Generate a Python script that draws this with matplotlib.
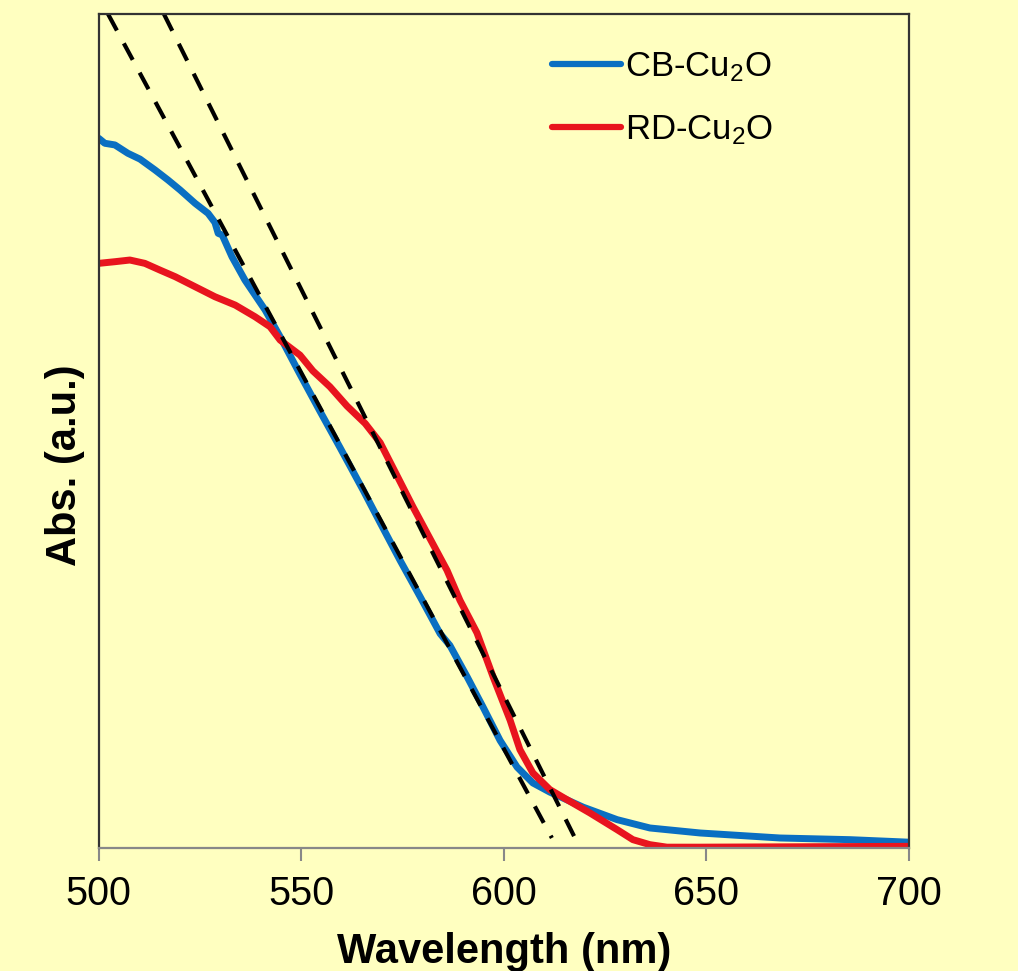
import matplotlib
matplotlib.use("Agg")
import matplotlib.pyplot as plt

plt.rcParams['font.family'] = ['Liberation Sans', 'DejaVu Sans']
plt.rcParams['mathtext.fontset'] = 'custom'
plt.rcParams['mathtext.rm'] = 'Liberation Sans'
plt.rcParams['mathtext.it'] = 'Liberation Sans:italic'
plt.rcParams['mathtext.bf'] = 'Liberation Sans:bold'
plt.rcParams['mathtext.default'] = 'regular'

# ---- data ----
cb_wl = [500.0, 501.5, 504.0, 507.2, 510.2, 513.9, 517.1, 520.1, 523.8, 527.0,
         528.7, 529.5, 530.5, 532.9, 536.1, 538.6, 541.1, 544.8, 549.7, 554.6,
         559.6, 565.3, 569.5, 574.4, 579.4, 584.3, 586.7, 591.0, 594.9, 599.1,
         603.3, 607.2, 611.4, 619.6, 628.0, 636.1, 648.5, 668.2, 685.5, 699.9]
cb_abs = [0.851, 0.845, 0.843, 0.833, 0.826, 0.813, 0.801, 0.789, 0.773, 0.761,
          0.750, 0.737, 0.735, 0.709, 0.681, 0.663, 0.645, 0.613, 0.568, 0.524,
          0.480, 0.429, 0.390, 0.345, 0.301, 0.257, 0.243, 0.205, 0.169, 0.129,
          0.097, 0.078, 0.067, 0.049, 0.034, 0.024, 0.018, 0.012, 0.010, 0.007]

rd_wl = [500.0, 504.0, 507.7, 511.4, 515.1, 518.9, 523.8, 528.7, 533.7, 538.6,
         542.3, 544.8, 549.7, 552.9, 557.1, 561.3, 565.8, 569.5, 577.6, 586.0,
         589.2, 593.4, 597.4, 601.6, 604.0, 607.2, 611.4, 615.6, 621.3, 628.0,
         631.9, 636.1, 640.3, 648.5, 699.9]
rd_abs = [0.701, 0.703, 0.705, 0.701, 0.693, 0.685, 0.673, 0.661, 0.651, 0.637,
          0.625, 0.609, 0.591, 0.572, 0.553, 0.530, 0.509, 0.486, 0.409, 0.333,
          0.297, 0.258, 0.205, 0.153, 0.118, 0.090, 0.070, 0.058, 0.042, 0.022,
          0.010, 0.004, 0.001, 0.001, 0.002]

# tangent (band-edge extrapolation) lines
tan_cb_wl = [502.3, 611.9]
tan_cb_abs = [1.0, 0.012]
tan_rd_wl = [516.1, 617.6]
tan_rd_abs = [1.0, 0.012]

labels = ['CB-Cu$_2$O', 'RD-Cu$_2$O']
xticks = [500, 550, 600, 650, 700]

bg = '#FFFFC0'
fig = plt.figure(figsize=(10.18, 9.71), dpi=100, facecolor=bg)
ax = fig.add_axes([98.7/1018, 1 - 848/971, 810/1018, 834/971])
ax.set_facecolor(bg)

ax.plot(cb_wl, cb_abs, color='#0a6fc2', lw=5, label=labels[0],
        solid_joinstyle='round', solid_capstyle='round')
ax.plot(rd_wl, rd_abs, color='#e8141e', lw=5, label=labels[1],
        solid_joinstyle='round', solid_capstyle='round')
ax.plot(tan_cb_wl, tan_cb_abs, color='black', lw=3.0, dashes=(4.5, 3.5))
ax.plot(tan_rd_wl, tan_rd_abs, color='black', lw=3.0, dashes=(4.5, 3.5))

ax.set_xlim(500, 700)
ax.set_ylim(0, 1)
ax.set_xticks(xticks)
ax.set_xticklabels([str(t) for t in xticks])
ax.set_yticks([])
ax.tick_params(axis='x', direction='out', length=9.5, width=1.5, color='#888888',
               labelsize=28.5, pad=10, labelcolor='black')
for s in ['left', 'top', 'right']:
    ax.spines[s].set_color('#333333')
    ax.spines[s].set_linewidth(1.6)
ax.spines['bottom'].set_color('#888888')
ax.spines['bottom'].set_linewidth(1.6)

leg = ax.legend(loc='upper left', bbox_to_anchor=((552-98.7)/810, 1 - (50-14)/834),
                frameon=False, fontsize=25, handlelength=2.0, handletextpad=0.1,
                labelspacing=0.85, borderaxespad=0, borderpad=0)
for line in leg.get_lines():
    line.set_linewidth(4.5)

fig.text(504/1018, 1 - 963/971, 'Wavelength (nm)', ha='center', va='baseline',
         fontsize=30, fontweight='bold')
fig.text(65/1018, 1 - 465/971, 'Abs. (a.u.)', ha='center', va='center',
         rotation=90, fontsize=30, fontweight='bold')

fig.savefig('out.png', dpi=100, facecolor=bg)
